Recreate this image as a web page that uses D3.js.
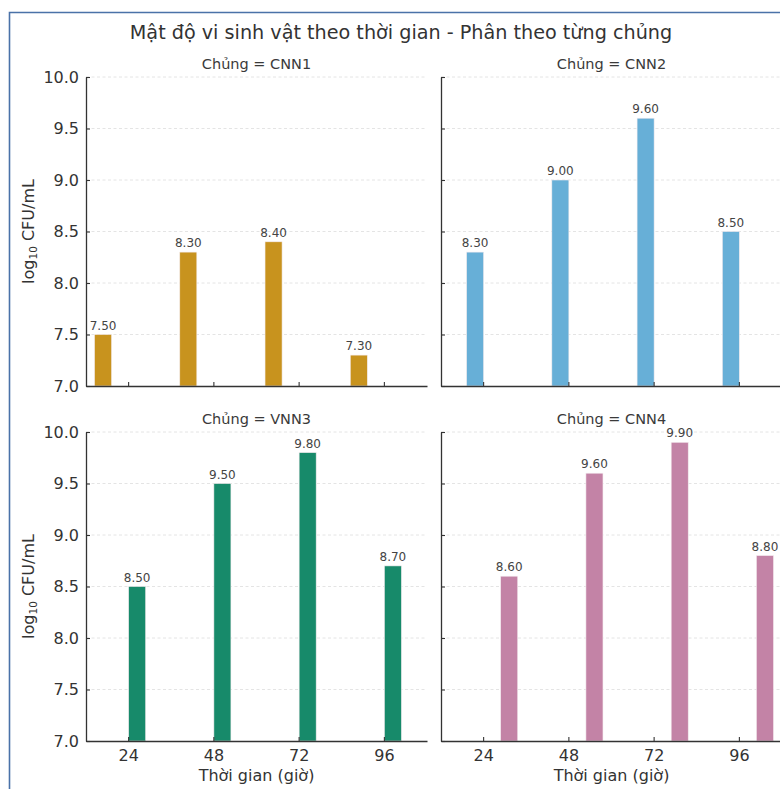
<!DOCTYPE html>
<html><head><meta charset="utf-8">
<script src="https://cdn.jsdelivr.net/npm/d3@7"></script>
<style>body{margin:0;background:#fff;} svg{display:block;font-family:"DejaVu Sans",sans-serif;}</style>
</head><body>
<script>
const times = [24, 48, 72, 96];
const strains = ["CNN1", "CNN2", "VNN3", "CNN4"];
const cnn1 = [7.5, 8.3, 8.4, 7.3];
const cnn2 = [8.3, 9.0, 9.6, 8.5];
const vnn3 = [8.5, 9.5, 9.8, 8.7];
const cnn4 = [8.6, 9.6, 9.9, 8.8];
const colors = ["#c8931e", "#67afd7", "#178a6a", "#c383a6"];
const yTicks = [7.0, 7.5, 8.0, 8.5, 9.0, 9.5, 10.0];
const seriesList = [cnn1, cnn2, vnn3, cnn4];

const W = 780, H = 789;
const svg = d3.select("body").append("svg").attr("width", W).attr("height", H);

// frame
svg.append("path").attr("d", `M9.5,${H} L9.5,12.5 L${W},12.5`).attr("fill","none")
  .attr("stroke", "#4a72a8").attr("stroke-width", 1.6);

svg.append("text").attr("x", 401).attr("y", 39).attr("text-anchor","middle")
  .attr("font-size", 19.2).attr("fill", "#333")
  .text("Mật độ vi sinh vật theo thời gian - Phân theo từng chủng");

const panels = [
  {col:0,row:0},{col:1,row:0},{col:0,row:1},{col:1,row:1}
];
const lefts = [86, 441], axW = 341;
const tops = [77, 432], axH = 309;

panels.forEach((p, i) => {
  const x0 = lefts[p.col], y0 = tops[p.row];
  const g = svg.append("g");
  const x = d3.scaleBand().domain(times).range([x0, x0 + axW]).padding(0);
  const y = d3.scaleLinear().domain([7, 10]).range([y0 + axH, y0]);
  const bw = x.bandwidth();
  // grid
  g.selectAll(".grid").data(yTicks.slice(1)).join("line")
    .attr("x1", x0).attr("x2", x0 + axW).attr("y1", d => y(d)).attr("y2", d => y(d))
    .attr("stroke", "#dddddd").attr("stroke-width", 0.8).attr("stroke-dasharray", "3,2.5");
  // bars
  const vals = seriesList[i];
  const off = (i - 1.5) * 0.2 * bw;
  const data = times.map((t, k) => ({t, v: vals[k]}));
  g.selectAll(".bar").data(data).join("rect")
    .attr("x", d => x(d.t) + bw/2 + off - 0.1*bw)
    .attr("width", 0.2*bw)
    .attr("y", d => y(d.v)).attr("height", d => y(7) - y(d.v))
    .attr("fill", colors[i]).attr("stroke", "#f4ecef").attr("stroke-width", 0.6);
  g.selectAll(".lbl").data(data).join("text")
    .attr("x", d => x(d.t) + bw/2 + off).attr("y", d => y(d.v) - 5)
    .attr("text-anchor","middle").attr("font-size", 12).attr("fill", "#444")
    .text(d => d.v.toFixed(2));
  // axes
  const ax = d3.axisBottom(x).tickSizeInner(-4).tickSizeOuter(0).tickPadding(9);
  const axg = g.append("g").attr("transform", `translate(0,${y0+axH})`).call(ax);
  const ay = d3.axisLeft(y).tickValues(yTicks).tickFormat(d3.format(".1f")).tickSizeInner(-4).tickSizeOuter(0).tickPadding(7);
  const ayg = g.append("g").attr("transform", `translate(${x0},0)`).call(ay);
  [axg, ayg].forEach(a => {
    a.select(".domain").attr("stroke", "#333").attr("stroke-width", 1.3);
    a.selectAll(".tick line").attr("stroke", "#333").attr("stroke-width", 1.1);
    a.selectAll(".tick text").attr("fill", "#333").attr("font-size", 16).attr("font-family", "DejaVu Sans");
  });
  if (p.col === 1) ayg.selectAll(".tick text").remove();
  if (p.row === 0) axg.selectAll(".tick text").remove();
  // titles
  g.append("text").attr("x", x0 + axW/2).attr("y", y0 - 8).attr("text-anchor","middle")
    .attr("font-size", 14.5).attr("fill", "#3a3a3a").text("Chủng = " + strains[i]);
  if (p.col === 0) {
    const t = g.append("text").attr("transform", `translate(34,${y0 + axH/2}) rotate(-90)`)
      .attr("text-anchor","middle").attr("font-size", 16).attr("fill", "#333");
    t.append("tspan").text("log");
    t.append("tspan").attr("font-size", 10.5).attr("dy", 3).text("10");
    t.append("tspan").attr("dy", -3).text(" CFU/mL");
  }
  if (p.row === 1) {
    g.append("text").attr("x", x0 + axW/2).attr("y", 781).attr("text-anchor","middle")
      .attr("font-size", 16).attr("fill", "#333").text("Thời gian (giờ)");
  }
});
</script>
</body></html>
